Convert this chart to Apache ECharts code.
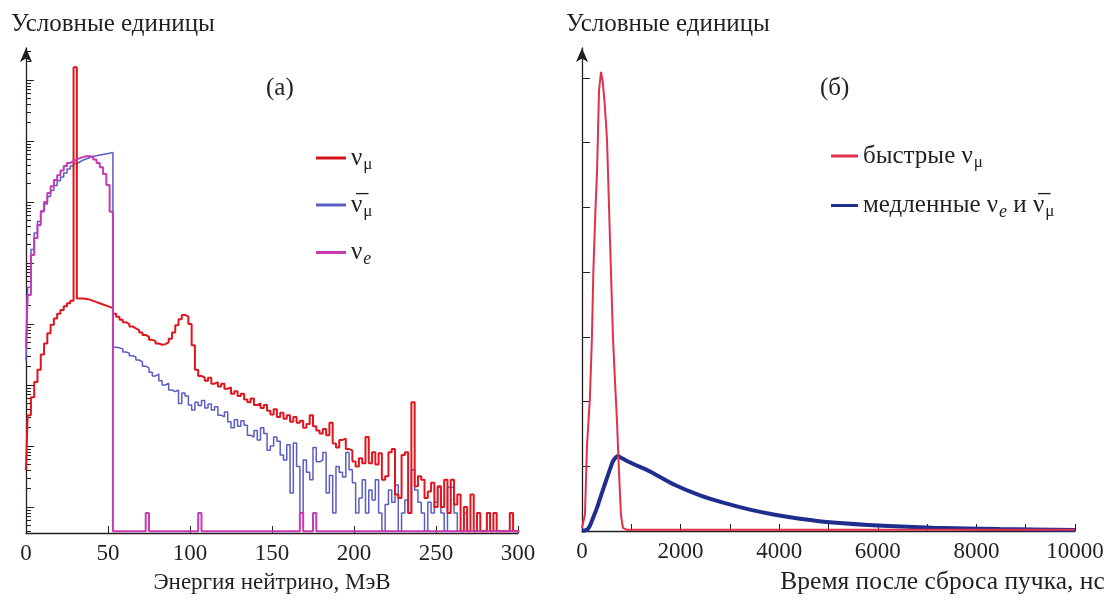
<!DOCTYPE html>
<html><head><meta charset="utf-8">
<script src="https://cdn.jsdelivr.net/npm/echarts@6/dist/echarts.min.js"></script>
<style>html,body{margin:0;padding:0;background:#fff}#c{width:1111px;height:600px}</style>
</head><body><div id="c"></div>
<script>
// ---------- Panel (a): energy spectra, log scale ----------
// bins: k=0 -> [0,1] MeV, k>=1 -> [2k-1, 2k+1] MeV
const energyTicks = [0, 50, 100, 150, 200, 250, 300];
const numuV = [
  4, 32, 63, 112, 178, 316, 479, 708, 977, 1230,
  1480, 1700, 1950, 2190, 2400, 1.62e7, 2630, 2630, 2570, 2510,
  2400, 2290, 2190, 2090, 2000, 1910, 1820, 1480, 1320, 1170,
  1070, 1000, 912, 851, 794, 724, 661, 617, 550, 525,
  479, 457, 468, 501, 575, 724, 955, 1200, 1410, 1320,
  1000, 447, 178, 141, 132, 117, 132, 105, 112, 95,
  105, 87, 91, 72, 79, 66, 72, 58, 52, 60,
  47, 50, 42, 47, 38, 33, 40, 30, 35, 28,
  32, 25, 30, 24, 26, 20, 23, 32, 21, 18,
  16, 19, 15, 24, 11, 9.5, 12.6, 13.2, 8.9, 8.5,
  5.6, 4.6, 6.3, 5.2, 14, 5.2, 7.9, 5.0, 7.6, 2.8,
  3.2, 7.9, 8.9, 1.6, 1.4, 7.1, 7.9, 0.8, 52, 2.2,
  3.2, 2.8, 1.4, 1.8, 2.5, 1.0, 2.2, 1.0, 2.8, 0.8,
  2.8, 1.1, 1.6, 0.4, 1.0, 0.4, 1.6, 0.4, 0.8, 0.4,
  0.4, 0.8, 0.4, 0.8, 0.4, 0.4, 0.4, 0.4, 0.8, 0.4,
  0.4
];
const numubarV = [
  250, 4.0e3, 1.66e4, 3.1e4, 4.8e4, 6.9e4, 9.3e4, 1.23e5, 1.55e5, 1.86e5,
  2.24e5, 2.57e5, 3.0e5, 3.47e5, 3.89e5, 4.27e5, 4.57e5, 4.9e5, 5.13e5, 5.37e5,
  5.62e5, 5.75e5, 5.89e5, 6.03e5, 6.17e5, 6.31e5, 6.46e5, 417, 407, 389,
  347, 331, 302, 288, 257, 240, 204, 191, 162, 141,
  151, 117, 100, 107, 83, 78, 83, 50, 74, 66,
  47, 39, 52, 46, 56, 42, 49, 39, 44, 32,
  30, 36, 25, 20, 27, 21, 26, 22, 15, 14,
  18, 12.6, 20, 16, 8.5, 10, 14, 12, 7.1, 5.9,
  10.5, 1.7, 11.2, 4.6, 0.8, 5.9, 3.7, 2.8, 9.5, 5.5,
  5.9, 7.8, 1.7, 3.3, 0.8, 4.6, 3.7, 3.1, 7.8, 4.1,
  2.5, 0.8, 1.4, 2.8, 0.8, 1.9, 1.3, 2.8, 0.8, 0.4,
  1.1, 1.9, 1.2, 2.3, 0.4, 0.8, 1.3, 0.8, 4.1, 1.9,
  1.2, 0.8, 0.4, 1.2, 0.8, 1.2, 2.1, 0.8, 0.4, 2.1,
  2.1, 0.8, 0.4, 0.4, 0.8, 0.4, 0.4, 0.4, 0.4, 0.4,
  0.4, 0.8, 0.4, 0.4, 0.4, 0.4, 0.4, 0.4, 0.4, 0.4,
  0.4
];
const nueV = [
  400, 3.0e3, 1.35e4, 2.57e4, 4.2e4, 7.1e4, 1.0e5, 1.41e5, 1.82e5, 2.29e5,
  2.75e5, 3.3e5, 3.89e5, 4.37e5, 4.68e5, 5.0e5, 5.25e5, 5.5e5, 5.62e5, 5.62e5,
  5.5e5, 5.0e5, 4.37e5, 3.72e5, 2.88e5, 1.9e5, 6.9e4, 0.4, 0.4, 0.4,
  0.4, 0.4, 0.4, 0.4, 0.4, 0.4, 0.4, 0.8, 0.4, 0.4,
  0.4, 0.4, 0.4, 0.4, 0.4, 0.4, 0.4, 0.4, 0.4, 0.4,
  0.4, 0.4, 0.4, 0.8, 0.4, 0.4, 0.4, 0.4, 0.4, 0.4,
  0.4, 0.4, 0.4, 0.4, 0.4, 0.4, 0.4, 0.4, 0.4, 0.4,
  0.4, 0.4, 0.4, 0.4, 0.4, 0.4, 0.4, 0.4, 0.4, 0.4,
  0.4, 0.4, 0.4, 0.4, 0.8, 0.4, 0.4, 0.4, 0.8, 0.4,
  0.4, 0.4, 0.4, 0.4, 0.4, 0.4, 0.4, 0.4, 0.4, 0.4,
  0.4, 0.4, 0.4, 0.4, 0.4, 0.4, 0.4, 0.4, 0.4, 0.4,
  0.4, 0.4, 0.4, 0.4, 0.4, 0.4, 0.4, 0.4, 0.4, 0.4,
  0.4, 0.4, 0.4, 0.4, 0.4, 0.4, 0.4, 0.4, 0.4, 0.4,
  0.4, 0.4, 0.4, 0.4, 0.4, 0.4, 0.4, 0.4, 0.4, 0.4,
  0.4, 0.4, 0.4, 0.4, 0.4, 0.4, 0.4, 0.4, 0.4, 0.4,
  0.4
];

// ---------- Panel (b): time distributions ----------
const timeTicks = [0, 2000, 4000, 6000, 8000, 10000];
const fastT = [0, 60, 100, 160, 200, 230, 270, 305, 345, 385, 420, 460, 507, 568, 629, 670, 710, 750, 790, 830, 900, 10000];
const fastV = [0.05, 0.25, 1.3, 2.05, 2.95, 4.0, 4.9, 5.55, 6.8, 7.09, 6.95, 6.6, 6.05, 4.5, 2.97, 2.3, 1.69, 0.92, 0.25, 0.05, 0.02, 0.02];
const slowT = [0, 100, 160, 223, 300, 365, 440, 507, 570, 629, 690, 730, 770, 1000, 1379, 1886, 2393, 2900, 3407, 3914, 4421, 5090, 6104, 7118, 8477, 10000];
const slowV = [0, 0.02, 0.08, 0.2, 0.35, 0.5, 0.67, 0.82, 0.96, 1.08, 1.14, 1.16, 1.14, 1.05, 0.92, 0.71, 0.55, 0.43, 0.33, 0.25, 0.19, 0.13, 0.08, 0.05, 0.03, 0.015];

const FONT = 'Liberation Serif';
const INK = '#231f20';

function histData(vals) {
  const d = [];
  for (let k = 0; k < vals.length; k++) d.push([k === 0 ? 0 : 2 * k - 1, vals[k]]);
  d.push([2 * vals.length - 1, vals[vals.length - 1]]);
  return d;
}
function zip(a, b) { return a.map((v, i) => [v, b[i]]); }

// log-axis tick positions
const decadeTicks = [], minorTicks = [];
for (let d = -1; d <= 7; d++) {
  for (let m = 1; m <= 9; m++) {
    const v = m * Math.pow(10, d);
    if (v < 0.375 || v > 3.35e7) continue;
    if (m === 1) decadeTicks.push(v); else minorTicks.push(v);
  }
}

const rich = {
  t: { fontFamily: FONT, fontSize: 25, color: INK, lineHeight: 28 },
  n: { fontFamily: FONT, fontSize: 25, color: INK, lineHeight: 28 },
  s: { fontFamily: FONT, fontSize: 17, color: INK, lineHeight: 18, padding: [13, 0, 0, 1] },
  se: { fontFamily: FONT, fontSize: 18, fontStyle: 'italic', color: INK, lineHeight: 18, padding: [13, 0, 0, 1] }
};
const legendText = {
  numu: '{n|ν}{s|μ}',
  numubar: '{n|ν\u0305}{s|μ}',
  nue: '{n|ν}{se|e}',
  fast: '{t|быстрые }{n|ν}{s|μ}',
  slow: '{t|медленные }{n|ν}{se|e}{t| и }{n|ν\u0305}{s|μ}'
};

const axisLineStyle = { color: INK, width: 1.3 };
const labelStyle = { fontFamily: FONT, fontSize: 23, color: INK, margin: 9 };
const nameStyle = { fontFamily: FONT, fontSize: 24, color: INK };
const titleStyle = { fontFamily: FONT, fontSize: 25, fontWeight: 'normal', color: INK };

const chart = echarts.init(document.getElementById('c'), null, { renderer: 'canvas' });
chart.setOption({
  animation: false,
  backgroundColor: '#fff',
  title: [
    { text: 'Условные единицы', left: 11, top: 12, padding: 0, textStyle: titleStyle },
    { text: 'Условные единицы', left: 566, top: 12, padding: 0, textStyle: titleStyle },
    { text: '(а)', left: 266, top: 76, padding: 0, textStyle: titleStyle },
    { text: '(б)', left: 820, top: 76, padding: 0, textStyle: titleStyle }
  ],
  legend: [
    {
      data: ['numu', 'numubar', 'nue'], orient: 'vertical', left: 311, top: 138,
      icon: 'rect', itemWidth: 30, itemHeight: 3, itemGap: 17,
      formatter: n => legendText[n], textStyle: { rich: rich }
    },
    {
      data: ['fast', 'slow'], orient: 'vertical', left: 826, top: 136,
      icon: 'rect', itemWidth: 27, itemHeight: 3, itemGap: 19,
      formatter: n => legendText[n], textStyle: { rich: rich }
    }
  ],
  grid: [
    { left: 26, top: 48, width: 492, bottom: 67 },
    { left: 582, top: 48, width: 493, bottom: 67 }
  ],
  xAxis: [
    {
      gridIndex: 0, type: 'value', min: 0, max: 300, interval: 50,
      axisLine: { lineStyle: axisLineStyle },
      axisTick: { inside: true, length: 7, lineStyle: { color: INK } },
      axisLabel: labelStyle, splitLine: { show: false },
      name: 'Энергия нейтрино, МэВ', nameLocation: 'middle', nameGap: 38,
      nameTextStyle: Object.assign({}, nameStyle, { fontSize: 23 })
    },
    {
      gridIndex: 1, type: 'value', min: 0, max: 10000, interval: 1000,
      axisLine: { lineStyle: axisLineStyle },
      axisTick: { inside: true, length: 7, lineStyle: { color: INK } },
      axisLabel: Object.assign({}, labelStyle, { formatter: v => (timeTicks.indexOf(v) >= 0 ? String(v) : '') }),
      splitLine: { show: false },
      name: 'Время после сброса пучка, нс', nameLocation: 'middle', nameGap: 38,
      nameTextStyle: Object.assign({}, nameStyle, { fontSize: 25.5, padding: [0, 0, 0, 228] })
    }
  ],
  yAxis: [
    {
      gridIndex: 0, type: 'log', logBase: 10, min: 0.375, max: 3.35e7, position: 'left',
      axisLine: { show: true, lineStyle: axisLineStyle, symbol: ['none', 'arrow'], symbolSize: [9, 14] },
      axisTick: { show: true, inside: true, length: 5, customValues: minorTicks, lineStyle: { color: INK } },
      axisLabel: { show: false }, splitLine: { show: false }
    },
    {
      gridIndex: 0, type: 'log', logBase: 10, min: 0.375, max: 3.35e7, position: 'left',
      axisLine: { show: false },
      axisTick: { show: true, inside: true, length: 8, customValues: decadeTicks, lineStyle: { color: INK } },
      axisLabel: { show: false }, splitLine: { show: false }
    },
    {
      gridIndex: 1, type: 'value', min: 0, max: 7.46, position: 'left',
      axisLine: { show: true, lineStyle: axisLineStyle, symbol: ['none', 'arrow'], symbolSize: [9, 14] },
      axisTick: { show: true, inside: true, length: 8, customValues: [1, 2, 3, 4, 5, 6, 7], lineStyle: { color: INK } },
      axisLabel: { show: false }, splitLine: { show: false }
    }
  ],
  series: [
    {
      name: 'numubar', type: 'line', xAxisIndex: 0, yAxisIndex: 0, step: 'end', symbol: 'none',
      data: histData(numubarV), lineStyle: { color: '#5b5dc2', width: 1.5 }, itemStyle: { color: '#5b5dc2' }, z: 2
    },
    {
      name: 'numu', type: 'line', xAxisIndex: 0, yAxisIndex: 0, step: 'end', symbol: 'none',
      data: histData(numuV), lineStyle: { color: '#e0161f', width: 2 }, itemStyle: { color: '#d3141d' }, z: 3
    },
    {
      name: 'nue', type: 'line', xAxisIndex: 0, yAxisIndex: 0, step: 'end', symbol: 'none',
      data: histData(nueV), lineStyle: { color: '#c83ab5', width: 2 }, itemStyle: { color: '#c83ab5' }, z: 4
    },
    {
      name: 'slow', type: 'line', xAxisIndex: 1, yAxisIndex: 2, symbol: 'none', smooth: 0.3,
      data: zip(slowT, slowV), lineStyle: { color: '#1f2e8e', width: 4 }, itemStyle: { color: '#1f2e8e' }, z: 2
    },
    {
      name: 'fast', type: 'line', xAxisIndex: 1, yAxisIndex: 2, symbol: 'none',
      data: zip(fastT, fastV), lineStyle: { color: '#e2304c', width: 2 }, itemStyle: { color: '#e2304c' }, z: 3
    }
  ]
});
</script>
</body></html>
